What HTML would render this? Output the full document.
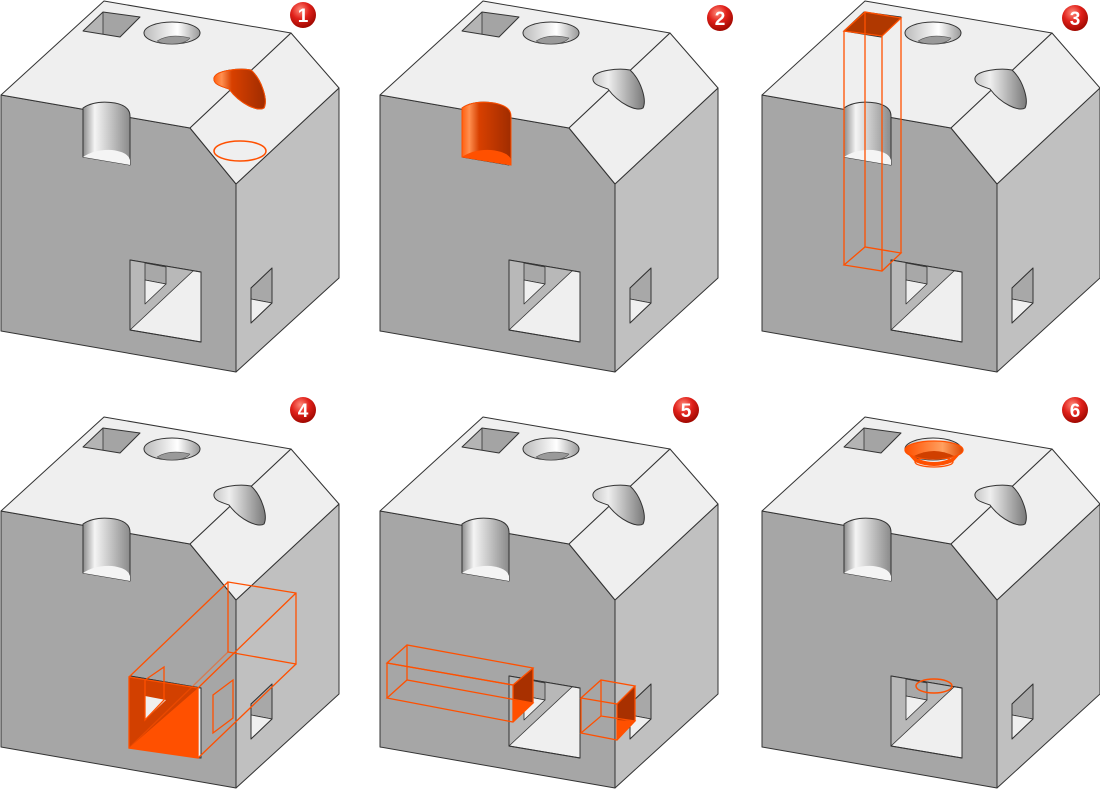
<!DOCTYPE html>
<html><head><meta charset="utf-8"><style>html,body{margin:0;padding:0;background:#fff}svg{display:block}</style></head>
<body>
<svg width="1100" height="790" viewBox="0 0 1100 790" xmlns="http://www.w3.org/2000/svg" font-family="Liberation Sans, sans-serif">
<defs>
<linearGradient id="cyl" x1="0" x2="1"><stop offset="0" stop-color="#8c8c8c"/><stop offset="0.25" stop-color="#f4f4f4"/><stop offset="1" stop-color="#8a8a8a"/></linearGradient>
<linearGradient id="cs" x1="0" x2="1"><stop offset="0" stop-color="#bbb"/><stop offset="0.6" stop-color="#fff"/><stop offset="1" stop-color="#999"/></linearGradient>
<linearGradient id="blob" x1="0" x2="1"><stop offset="0" stop-color="#c8c8c8"/><stop offset="0.3" stop-color="#eee"/><stop offset="1" stop-color="#7a7a7a"/></linearGradient>
<linearGradient id="ocyl" x1="0" x2="1"><stop offset="0" stop-color="#ff6010"/><stop offset="0.15" stop-color="#ff9050"/><stop offset="0.35" stop-color="#d84000"/><stop offset="1" stop-color="#a02c00"/></linearGradient>
<linearGradient id="ocs" x1="0" x2="1"><stop offset="0" stop-color="#ff5000"/><stop offset="0.65" stop-color="#ffa060"/><stop offset="1" stop-color="#e04800"/></linearGradient>
<radialGradient id="badge" cx="0.4" cy="0.3" r="0.7"><stop offset="0" stop-color="#ff8a7a"/><stop offset="0.5" stop-color="#e0201a"/><stop offset="1" stop-color="#a00800"/></radialGradient>
<g id="blk" stroke="#333" stroke-width="1" stroke-linejoin="round">
<polygon points="1,95 190,128 236,184 236,372 1,331" fill="#a6a6a6"/>
<polygon points="236,184 339,88 339,278 236,372" fill="#c0c0c0"/>
<polygon points="1,95 104,1 291,33 190,128" fill="#efefef"/>
<polygon points="190,128 291,33 339,88 236,184" fill="#efefef"/>
<polygon points="83,31 103,12 103,34" fill="#b4b4b4" stroke="none"/>
<polygon points="103,12 140,17 120,37 103,34" fill="#a4a4a4" stroke="none"/>
<polygon points="83,31 103,12 140,17 120,37" fill="none"/>
<line x1="103" y1="12" x2="103" y2="34" stroke-width="0.8"/>
<ellipse cx="172" cy="33" rx="28" ry="11" fill="url(#cs)"/>
<path d="M157,41 Q170,33 190,38 Q185,44 172,44 Q162,44 157,41Z" fill="#9a9a9a" stroke="#555" stroke-width="0.6"/>
<path d="M83,108 Q95,100 115,103 Q130,106 130,116 L130,165 L83,157 Z" fill="url(#cyl)"/>
<path d="M83,157 Q95,149 112,150 Q128,152 130,160 L130,165 Z" fill="#f4f4f4" stroke="none"/>
<path d="M214,78 C216,70 240,68 251,70 C262,80 268,100 264,108 C258,112 240,104 229,89 C220,86 213,84 214,78Z" fill="url(#blob)"/>
<polygon points="130,260 201,272 201,342 130,330" fill="#efefef"/>
<polygon points="130,260 193,271 130,330" fill="#b8b8b8" stroke="none"/>
<line x1="193" y1="271" x2="130" y2="330" stroke-width="0.8"/>
<polygon points="145,263 166,267 166,284 145,280" fill="#a8a8a8" stroke-width="0.8"/>
<polygon points="145,280 166,284 145,304" fill="#efefef" stroke-width="0.8"/>
<polygon points="130,260 201,272 201,342 130,330" fill="none"/>
<polygon points="251,288 272,268 272,303 251,299" fill="#a8a8a8" stroke-width="0.8"/>
<polygon points="251,299 272,303 251,323" fill="#efefef" stroke-width="0.8"/>
<polygon points="251,288 272,268 272,303 251,323" fill="none"/>
</g>
<g id="bd"><circle r="13" fill="url(#badge)"/></g>
</defs>

<use href="#blk" x="0" y="0"/>
<use href="#blk" x="379" y="0"/>
<use href="#blk" x="761" y="0"/>
<use href="#blk" x="0" y="416"/>
<use href="#blk" x="379" y="416"/>
<use href="#blk" x="761" y="416"/>

<g font-size="19" font-weight="bold" fill="#fff" text-anchor="middle">
<use href="#bd" x="303" y="15"/><text x="303" y="22">1</text>
<use href="#bd" x="720" y="18"/><text x="720" y="25">2</text>
<use href="#bd" x="1075" y="18"/><text x="1075" y="25">3</text>
<use href="#bd" x="303" y="410"/><text x="303" y="417">4</text>
<use href="#bd" x="686" y="410"/><text x="686" y="417">5</text>
<use href="#bd" x="1075" y="410"/><text x="1075" y="417">6</text>
</g>

<!-- panel 1 -->
<path d="M214,78 C216,70 240,68 251,70 C262,80 268,100 264,108 C258,112 240,104 229,89 C220,86 213,84 214,78Z" fill="url(#ocyl)" stroke="#ff5000" stroke-width="1"/>
<ellipse cx="240" cy="151" rx="26" ry="10" fill="none" stroke="#ff5000" stroke-width="1.5"/>

<!-- panel 2 -->
<g transform="translate(379,0)">
<path d="M83,108 Q95,100 115,103 Q132,106 132,116 L132,165 L83,157 Z" fill="url(#ocyl)" stroke="#ff5000"/>
<path d="M83,157 Q95,149 112,150 Q130,152 132,160 L132,165 Z" fill="#ff5000"/>
</g>

<!-- panel 3 -->
<g stroke="#ff5000" stroke-width="1.3" fill="none">
<polygon points="844,31 865,12 901,18 882,36" fill="#b03800"/>
<polygon points="844,265 865,247 901,253 882,271"/>
<line x1="844" y1="31" x2="844" y2="265"/><line x1="865" y1="12" x2="865" y2="247"/>
<line x1="901" y1="18" x2="901" y2="253"/><line x1="882" y1="36" x2="882" y2="271"/>
</g>

<!-- panel 4 -->
<polygon points="129,677 198,688 198,758 129,748" fill="#ff5000"/>
<polygon points="129,677 198,688 129,748" fill="#d24000"/>
<polygon points="145,696 166,700 145,720" fill="#efefef"/>
<g stroke="#ff5000" stroke-width="1.3" fill="none">
<polygon points="129,677 198,688 198,758 129,748"/>
<polygon points="228,582 296,593 296,664 228,652"/>
<line x1="129" y1="677" x2="228" y2="582"/><line x1="198" y1="688" x2="296" y2="593"/>
<line x1="198" y1="758" x2="296" y2="664"/><line x1="129" y1="748" x2="228" y2="652" stroke-opacity="0.5"/>
<polygon points="213,695 233,680 233,718 213,733"/>
<polygon points="145,680 164,667 164,700 145,720"/>
</g>

<!-- panel 5 -->
<polygon points="513,685 533,668 533,703 513,722" fill="#a83000"/>
<polygon points="513,700 533,703 513,722" fill="#ff5000"/>
<polygon points="617,704 635,686 635,721 617,740" fill="#a83000"/>
<polygon points="617,720 635,721 617,740" fill="#ff5000"/>
<g stroke="#ff5000" stroke-width="1.3" fill="none">
<polygon points="387,663 407,645 533,668 513,685"/>
<polygon points="387,698 513,722 533,703 407,680"/>
<line x1="387" y1="663" x2="387" y2="698"/><line x1="513" y1="685" x2="513" y2="722"/>
<line x1="533" y1="668" x2="533" y2="703"/><line x1="407" y1="645" x2="407" y2="680"/>
<line x1="387" y1="663" x2="513" y2="685"/>
<polygon points="581,698 601,680 635,686 617,704"/>
<polygon points="581,733 617,740 635,721 601,716"/>
<line x1="581" y1="698" x2="581" y2="733"/><line x1="617" y1="704" x2="617" y2="740"/>
<line x1="635" y1="686" x2="635" y2="721"/><line x1="601" y1="680" x2="601" y2="716"/>
</g>

<!-- panel 6 -->
<path d="M906,452 Q934,472 962,452 L953,462 Q934,470 915,462Z" fill="#ff5000"/>
<ellipse cx="934" cy="462" rx="19" ry="5" fill="none" stroke="#ff5000" stroke-width="1.3"/>
<ellipse cx="934" cy="450" rx="29" ry="9" fill="url(#ocs)" stroke="#ff5000" stroke-width="1.3"/>
<path d="M914,456 Q934,446 954,456 Q934,462 914,456Z" fill="#d04000"/>
<ellipse cx="934" cy="686" rx="18" ry="7" fill="none" stroke="#ff5000" stroke-width="1.5"/>
</svg>
</body></html>
